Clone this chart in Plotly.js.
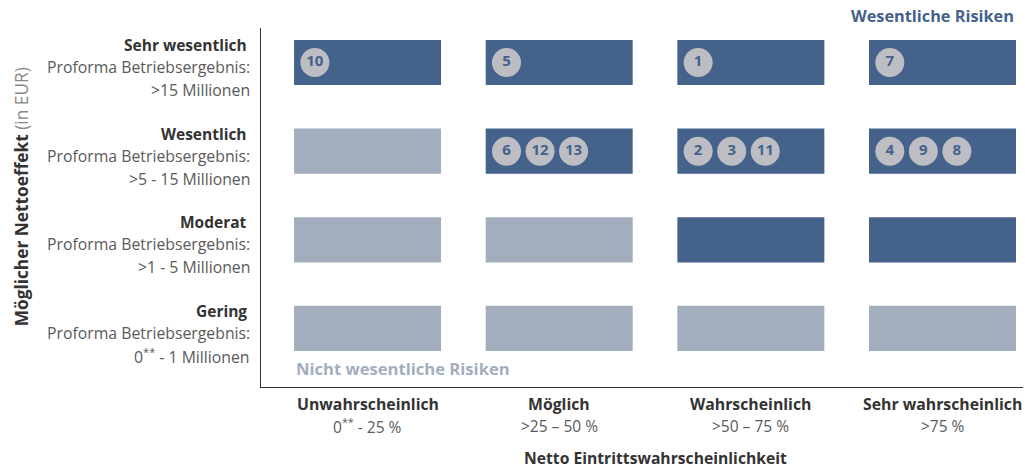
<!DOCTYPE html>
<html>
<head>
<meta charset="utf-8">
<script src="https://cdn.plot.ly/plotly-3.0.1.min.js"></script>
<style>
html,body{margin:0;padding:0;background:#fff;}
#chart{width:1025px;height:468px;}
</style>
</head>
<body>
<div id="chart"></div>
<script>
// ---- data ----
const probCategories = ["Unwahrscheinlich", "Möglich", "Wahrscheinlich", "Sehr wahrscheinlich"];
const probRanges = ["0<sup>**</sup> - 25 %", ">25 – 50 %", ">50 – 75 %", ">75 %"];
const impactCategories = ["Gering", "Moderat", "Wesentlich", "Sehr wesentlich"];
const impactLine2 = ["Proforma Betriebsergebnis:", "Proforma Betriebsergebnis:", "Proforma Betriebsergebnis:", "Proforma Betriebsergebnis:"];
const impactLine3 = ["0<sup>**</sup> - 1 Millionen", ">1 - 5 Millionen", ">5 - 15 Millionen", ">15 Millionen"];
// materiality matrix: rows = impact (Gering..Sehr wesentlich), cols = probability; 1 = wesentlich
const material = [
  [0, 0, 0, 0],
  [0, 0, 1, 1],
  [0, 1, 1, 1],
  [1, 1, 1, 1]
];
// risks: id, probability column, impact row, slot in cell
const riskIds  = ["10", "5", "1", "7", "6", "12", "13", "2", "3", "11", "4", "9", "8"];
const riskCol  = [0, 1, 2, 3, 1, 1, 1, 2, 2, 2, 3, 3, 3];
const riskRow  = [3, 3, 3, 3, 2, 2, 2, 2, 2, 2, 2, 2, 2];
const riskSlot = [0, 0, 0, 0, 0, 1, 2, 0, 1, 2, 0, 1, 2];

// ---- styling ----
const DARK = "#44628a";
const LIGHT = "#a2aebd";
const CIRCLE = "#bcbec4";
const FONT = "'Open Sans', Lato, sans-serif";
const cellW = 0.767, cellH = 0.51;
const slot0 = -0.275, slotStep = 0.175;

// cells as bars
const cx = [], cbase = [], ch = [], ccol = [];
for (let r = 0; r < impactCategories.length; r++) {
  for (let c = 0; c < probCategories.length; c++) {
    cx.push(c); cbase.push(r - cellH / 2); ch.push(cellH);
    ccol.push(material[r][c] ? DARK : LIGHT);
  }
}
const cells = {
  type: "bar", x: cx, y: ch, base: cbase, width: cellW,
  marker: {color: ccol, line: {width: 0}}, hoverinfo: "skip", showlegend: false
};
const risks = {
  type: "scatter", mode: "markers+text",
  x: riskCol.map((c, i) => c + slot0 + riskSlot[i] * slotStep),
  y: riskRow,
  text: riskIds.map(t => "<b>" + t + "</b>"),
  textposition: "middle center",
  textfont: {family: FONT, size: 15, color: DARK},
  marker: {size: 29, color: CIRCLE, line: {width: 0}},
  hoverinfo: "skip", showlegend: false, cliponaxis: false
};

const SUB = "#5a5a5a";
const ann = [];
// y labels
for (let r = 0; r < impactCategories.length; r++) {
  ann.push({xref: "paper", yref: "y", x: -0.016, y: r, xanchor: "right", yanchor: "middle", yshift: 17.5, showarrow: false,
    text: "<b>" + impactCategories[r] + "</b>", font: {family: FONT, size: 15.5, color: "#333"}});
  ann.push({xref: "paper", yref: "y", x: -0.012, y: r, xanchor: "right", yanchor: "middle", yshift: -4.5, showarrow: false,
    text: impactLine2[r], font: {family: FONT, size: 15.8, color: SUB}});
  ann.push({xref: "paper", yref: "y", x: -0.012, y: r, xanchor: "right", yanchor: "middle", yshift: -27.5, showarrow: false,
    text: impactLine3[r], font: {family: FONT, size: 15.8, color: SUB}});
}
// x labels
for (let c = 0; c < probCategories.length; c++) {
  ann.push({xref: "x", yref: "paper", x: c, y: 0, xanchor: "center", yanchor: "middle", yshift: -17, borderpad: 0, showarrow: false,
    text: "<b>" + probCategories[c] + "</b>", font: {family: FONT, size: 15.8, color: "#333"}});
  ann.push({xref: "x", yref: "paper", x: c, y: 0, xanchor: "center", yanchor: "middle", yshift: -39, borderpad: 0, showarrow: false,
    text: probRanges[c], font: {family: FONT, size: 15.5, color: SUB}});
}
// axis titles
ann.push({xref: "x", yref: "paper", x: 1.5, y: 0, xanchor: "center", yanchor: "middle", yshift: -71, borderpad: 0, showarrow: false,
  text: "<b>Netto Eintrittswahrscheinlichkeit</b>", font: {family: FONT, size: 15.7, color: "#333"}});
ann.push({xref: "paper", yref: "paper", x: -0.315, y: 0.531, xanchor: "center", yanchor: "middle", textangle: -90, showarrow: false,
  text: "<b>Möglicher Nettoeffekt</b> <span style='color:#888'>(in EUR)</span>", font: {family: FONT, size: 17.3, color: "#333"}});
// region labels
ann.push({xref: "x", yref: "paper", x: 3 + cellW / 2, y: 1, xanchor: "right", yanchor: "middle", yshift: 12, showarrow: false,
  text: "<b>Wesentliche Risiken</b>", font: {family: FONT, size: 16.3, color: DARK}});
ann.push({xref: "x", yref: "paper", x: -cellW / 2, y: 0, xanchor: "left", yanchor: "middle", yshift: 19, showarrow: false,
  text: "<b>Nicht wesentliche Risiken</b>", font: {family: FONT, size: 16.6, color: LIGHT}});

const layout = {
  width: 1025, height: 468,
  margin: {l: 261, r: 2, t: 28, b: 81},
  paper_bgcolor: "#fff", plot_bgcolor: "#fff",
  xaxis: {range: [-0.556, 3.42], showgrid: false, zeroline: false, showticklabels: false, ticks: "",
          showline: true, linecolor: "#333", linewidth: 1, fixedrange: true},
  yaxis: {range: [-0.66, 3.389], showgrid: false, zeroline: false, showticklabels: false, ticks: "",
          showline: true, linecolor: "#333", linewidth: 1, fixedrange: true},
  annotations: ann,
  showlegend: false,
  font: {family: FONT}
};
Plotly.newPlot("chart", [cells, risks], layout, {displayModeBar: false, staticPlot: true});
</script>
</body>
</html>
